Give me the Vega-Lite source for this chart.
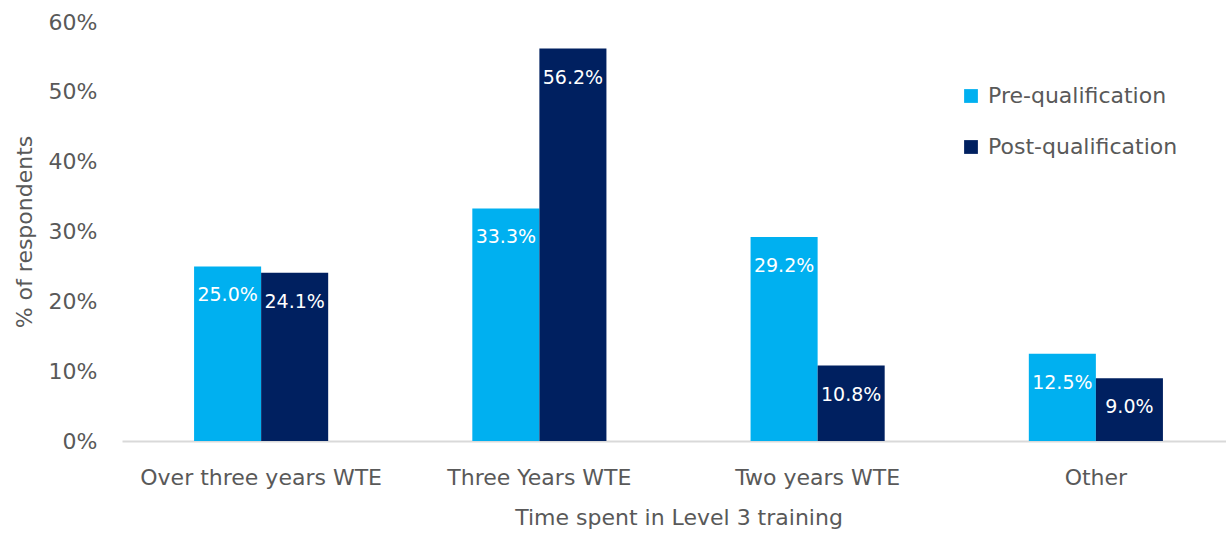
{
  "$schema": "https://vega.github.io/schema/vega-lite/v6.json",
  "width": 1113,
  "height": 419,
  "autosize": "none",
  "padding": {"left": 122, "top": 22, "right": 0, "bottom": 92},
  "background": "white",
  "config": {
    "view": {"stroke": null},
    "font": "DejaVu Sans",
    "axis": {"labelFont": "DejaVu Sans", "titleFont": "DejaVu Sans", "labelColor": "#595959", "titleColor": "#595959", "titleFontWeight": "normal", "labelLimit": 400}
  },
  "data": {
    "values": [
      {"category": "Over three years WTE", "group": "Pre-qualification", "value": 25.0},
      {"category": "Over three years WTE", "group": "Post-qualification", "value": 24.1},
      {"category": "Three Years WTE", "group": "Pre-qualification", "value": 33.3},
      {"category": "Three Years WTE", "group": "Post-qualification", "value": 56.2},
      {"category": "Two years WTE", "group": "Pre-qualification", "value": 29.2},
      {"category": "Two years WTE", "group": "Post-qualification", "value": 10.8},
      {"category": "Other", "group": "Pre-qualification", "value": 12.5},
      {"category": "Other", "group": "Post-qualification", "value": 9.0}
    ]
  },
  "encoding": {
    "x": {
      "field": "category", "type": "nominal",
      "sort": ["Over three years WTE", "Three Years WTE", "Two years WTE", "Other"],
      "scale": {"paddingInner": 0.518, "paddingOuter": 0.259},
      "axis": {"title": "Time spent in Level 3 training", "labelAngle": 0, "labelFontSize": 22, "titleFontSize": 22, "labelPadding": 26, "titlePadding": 19, "ticks": false, "domainColor": "#d9d9d9", "domainWidth": 2, "grid": false}
    },
    "xOffset": {"field": "group", "type": "nominal", "sort": ["Pre-qualification", "Post-qualification"], "scale": {"paddingInner": 0, "paddingOuter": 0}},
    "y": {
      "field": "value", "type": "quantitative",
      "scale": {"domain": [0, 60], "nice": false},
      "axis": {"title": "% of respondents", "values": [0, 10, 20, 30, 40, 50, 60], "labelExpr": "datum.value + '%'", "labelFontSize": 22, "titleFontSize": 22, "labelPadding": 25, "titlePadding": 12, "ticks": false, "domain": false, "grid": false}
    }
  },
  "layer": [
    {
      "mark": {"type": "bar"},
      "encoding": {
        "color": {
          "field": "group", "type": "nominal",
          "sort": ["Pre-qualification", "Post-qualification"],
          "scale": {"domain": ["Pre-qualification", "Post-qualification"], "range": ["#00B0F0", "#002060"]},
          "legend": {"title": null, "orient": "none", "legendX": 838, "legendY": 63, "symbolType": "square", "symbolSize": 190, "labelFontSize": 22, "labelColor": "#595959", "labelFont": "DejaVu Sans", "labelLimit": 400, "rowPadding": 29, "labelOffset": 6}
        }
      }
    },
    {
      "mark": {"type": "text", "color": "white", "fontSize": 19, "baseline": "middle", "dy": 29, "text": {"expr": "format(datum.value, '.1f') + '%'"}},
      "encoding": {}
    }
  ]
}
